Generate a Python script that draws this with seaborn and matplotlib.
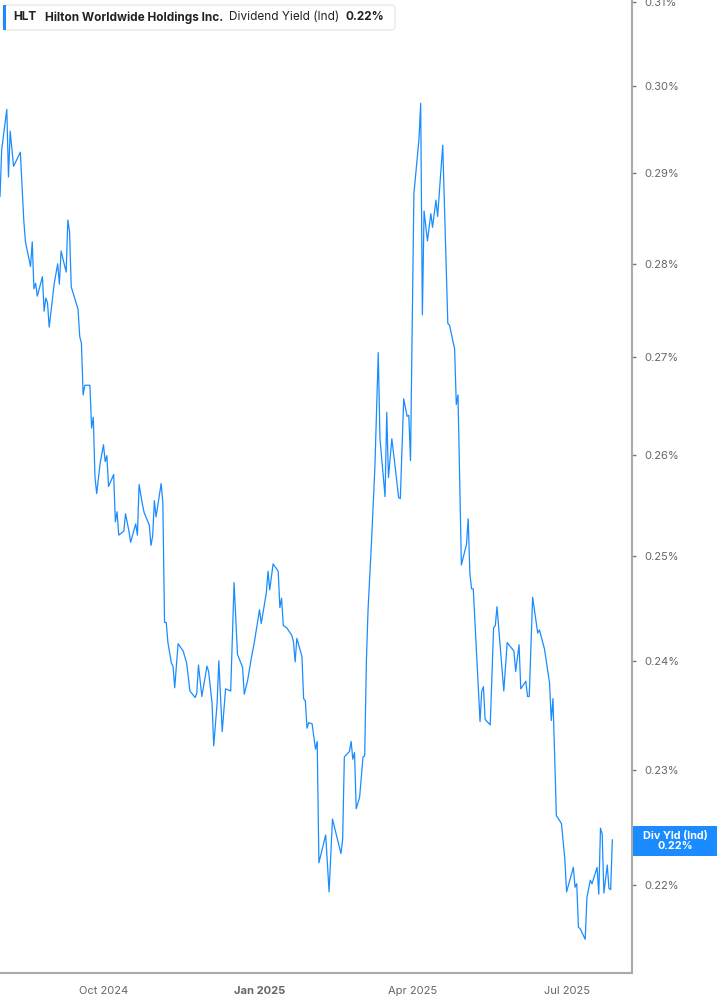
import matplotlib
matplotlib.use("Agg")
import matplotlib.pyplot as plt
import pandas as pd
import seaborn as sns
from matplotlib.patches import FancyBboxPatch, Rectangle
from matplotlib.ticker import FixedLocator, FuncFormatter, NullLocator

# HLT dividend yield (ind), % -- daily series
start = "2024-08-01"
day = [0, 1, 4, 5, 6, 8, 12, 14, 15, 18,
       19, 20, 21, 22, 25, 26, 27, 28, 29, 32,
       34, 35, 36, 39, 40, 41, 42, 46, 47, 48,
       49, 50, 53, 54, 55, 56, 57, 59, 61, 62,
       63, 64, 67, 68, 69, 70, 73, 74, 76, 77,
       80, 81, 82, 84, 85, 88, 89, 90, 91, 92,
       95, 96, 97, 98, 99, 101, 102, 103, 105, 108,
       110, 112, 115, 116, 117, 119, 122, 123, 125, 126,
       128, 129, 131, 133, 136, 138, 140, 143, 144, 146,
       148, 150, 153, 154, 157, 158, 159, 161, 164, 165,
       166, 167, 169, 172, 173, 174, 175, 178, 179, 180,
       181, 182, 184, 186, 187, 188, 192, 194, 196, 201,
       202, 203, 206, 207, 208, 209, 210, 212, 214, 215,
       216, 217, 219, 221, 223, 224, 227, 228, 229, 231,
       233, 235, 236, 238, 240, 241, 242, 244, 247, 248,
       249, 250, 252, 254, 255, 257, 258, 261, 264, 265,
       268, 269, 270, 272, 275, 276, 277, 278, 279, 283,
       284, 285, 286, 289, 291, 292, 293, 297, 299, 303,
       304, 306, 307, 310, 311, 312, 314, 317, 318, 321,
       324, 325, 326, 328, 331, 333, 334, 338, 339, 340,
       341, 342, 345, 346, 348, 349, 352, 353, 354, 355,
       356, 358, 359, 360, 361]
yield_pct = [.2874, .2927, .2973, .2896, .2948, .2908, .2924, .2848, .2824, .2797,
             .2824, .2773, .2779, .2765, .2786, .2749, .2763, .2758, .2732, .2779,
             .2800, .2778, .2814, .2791, .2848, .2835, .2775, .2751, .2722, .2715,
             .2661, .2671, .2671, .2627, .2638, .2577, .2561, .2591, .2610, .2593,
             .2599, .2568, .2580, .2533, .2543, .2520, .2524, .2541, .2524, .2513,
             .2531, .2520, .2570, .2550, .2542, .2530, .2510, .2519, .2554, .2538,
             .2571, .2552, .2436, .2436, .2417, .2398, .2395, .2375, .2416, .2409,
             .2398, .2372, .2366, .2370, .2396, .2367, .2395, .2390, .2361, .2322,
             .2361, .2400, .2335, .2374, .2372, .2474, .2406, .2394, .2369, .2382,
             .2401, .2418, .2448, .2435, .2464, .2485, .2467, .2492, .2485, .2450,
             .2459, .2433, .2431, .2424, .2418, .2399, .2421, .2404, .2365, .2363,
             .2338, .2343, .2342, .2319, .2326, .2219, .2243, .2194, .2257, .2227,
             .2239, .2312, .2317, .2326, .2310, .2316, .2266, .2276, .2312, .2313,
             .2400, .2449, .2513, .2587, .2705, .2616, .2558, .2643, .2577, .2616,
             .2587, .2557, .2556, .2657, .2639, .2640, .2594, .2877, .2939, .2980,
             .2745, .2858, .2825, .2855, .2840, .2870, .2852, .2932, .2736, .2734,
             .2709, .2651, .2661, .2491, .2511, .2536, .2483, .2468, .2468, .2344,
             .2372, .2376, .2346, .2341, .2431, .2433, .2451, .2372, .2417, .2409,
             .2390, .2415, .2374, .2381, .2367, .2367, .2460, .2426, .2429, .2411,
             .2379, .2345, .2365, .2260, .2253, .2222, .2194, .2215, .2198, .2201,
             .2164, .2163, .2154, .2189, .2204, .2201, .2215, .2192, .2249, .2244,
             .2193, .2217, .2197, .2196, .2239]

y_ticks = [0.22, 0.23, 0.24, 0.25, 0.26, 0.27, 0.28, 0.29, 0.30, 0.31]
x_ticks = ["2024-10-01", "2025-01-01", "2025-04-01", "2025-07-01"]
x_labels = ["Oct 2024", "Jan 2025", "Apr 2025", "Jul 2025"]
header = ["HLT", "Hilton Worldwide Holdings Inc.", "Dividend Yield (Ind)", "0.22%"]
last_label = "Div Yld (Ind)\n0.22%"

BLUE = "#1a8cff"
W, H = 717, 1005

df = pd.DataFrame({
    "date": pd.Timestamp(start) + pd.to_timedelta(day, unit="D"),
    "yld": yield_pct,
})

sns.set_theme(style="white")
plt.rcParams["font.family"] = ["Inter", "DejaVu Sans"]

fig = plt.figure(figsize=(W / 100, H / 100), dpi=100)
ax = fig.add_axes([0, (H - 973) / H, 632 / W, 973 / H])

sns.lineplot(data=df, x="date", y="yld", ax=ax, color=BLUE, linewidth=0.9,
             estimator=None, sort=False)

ax.set_yscale("log")
ax.set_ylim(0.2126, 0.3102)
ax.set_xlim(pd.Timestamp(start), pd.Timestamp("2025-08-08 14:00"))
ax.yaxis.set_major_locator(FixedLocator(y_ticks))
ax.yaxis.set_minor_locator(NullLocator())
ax.yaxis.set_major_formatter(FuncFormatter(lambda v, _: f"{v:.2f}%"))
ax.yaxis.tick_right()
ax.set_xlabel("")
ax.set_ylabel("")

ax.set_xticks(pd.to_datetime(x_ticks))
ax.set_xticklabels(x_labels)
ax.xaxis.set_minor_locator(NullLocator())
for lbl in ax.get_xticklabels():
    if lbl.get_text() == "Jan 2025":
        lbl.set_fontweight("bold")
        lbl.set_fontsize(9.5)

ax.tick_params(axis="y", which="major", length=3, width=1, color="#777",
               labelcolor="#666", labelsize=8, pad=6)
ax.tick_params(axis="x", which="major", length=5, width=1, color="#999",
               labelcolor="#666", labelsize=8, pad=4)
for side in ["left", "top"]:
    ax.spines[side].set_visible(False)
for side in ["right", "bottom"]:
    ax.spines[side].set_color("#aaaaaa")
    ax.spines[side].set_linewidth(1.5)


def fx(x):
    return x / W


def fy(y):
    return 1 - y / H


# header box
fig.add_artist(FancyBboxPatch((fx(3), fy(30)), fx(392), 25 / H,
                              boxstyle="round,pad=0,rounding_size=0.004",
                              transform=fig.transFigure, facecolor="white",
                              edgecolor="#e4e4e4", linewidth=0.8))
fig.add_artist(Rectangle((fx(3), fy(30)), fx(3), 25 / H, transform=fig.transFigure,
                         facecolor=BLUE, edgecolor="none"))
lefts = [13, 45, 229, 346]
weights = ["bold", "bold", "normal", "bold"]
for txt, left, wt in zip(header, lefts, weights):
    fig.text(fx(left), fy(17.5), txt, fontsize=8.5, fontweight=wt, color="#222",
             ha="left", va="center")

# last value tag on the right axis
fig.add_artist(Rectangle((fx(632.5), fy(855.5)), fx(717 - 632.5), 29.5 / H,
                         transform=fig.transFigure, facecolor=BLUE, edgecolor="none"))
fig.text(fx(675), fy(841), last_label, fontsize=7.8, fontweight="bold", color="white",
         ha="center", va="center", linespacing=1.0)

fig.savefig("out.png", dpi=100)
